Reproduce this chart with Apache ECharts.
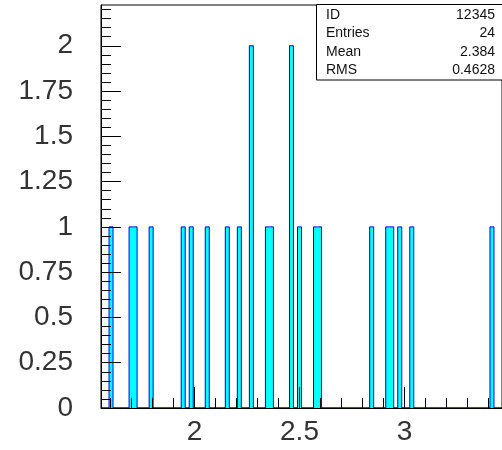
<!DOCTYPE html>
<html><head><meta charset="utf-8">
<script src="https://cdn.jsdelivr.net/npm/echarts@6/dist/echarts.min.js"></script>
<style>html,body{margin:0;padding:0;background:#fff}#c{width:502px;height:450px}</style>
</head><body><div id="c"></div>
<script>
// Histogram definition (100 bins)
const binLow = 1.555;
const binWidth = 0.01909;
const nBins = 100;
// non-empty bins (0-based index) and their contents
const filledBins = [2, 7, 8, 12, 20, 22, 26, 31, 34, 37, 41, 42, 47, 49, 53, 54, 67, 71, 72, 74, 77, 97];
const binCounts  = [1, 1, 1, 1,  1,  1,  1,  1,  1,  2,  1,  1,  2,  1,  1,  1,  1,  1,  1,  1,  1,  1];

const xMin = binLow, xMax = binLow + nBins * binWidth;
const yMin = 0, yMax = 2.225;
const xMajorTicks = [2, 2.5, 3];
const xMinorTicks = [1.6, 1.7, 1.8, 1.9, 2.0, 2.1, 2.2, 2.3, 2.4, 2.5, 2.6, 2.7, 2.8, 2.9, 3.0, 3.1, 3.2, 3.3, 3.4];
const yMajorTicks = [0, 0.25, 0.5, 0.75, 1, 1.25, 1.5, 1.75, 2];
const yMinorTicks = [0, 0.05, 0.1, 0.15, 0.2, 0.25, 0.3, 0.35, 0.4, 0.45, 0.5, 0.55, 0.6, 0.65, 0.7, 0.75, 0.8, 0.85, 0.9, 0.95,
                     1, 1.05, 1.1, 1.15, 1.2, 1.25, 1.3, 1.35, 1.4, 1.45, 1.5, 1.55, 1.6, 1.65, 1.7, 1.75, 1.8, 1.85, 1.9, 1.95,
                     2, 2.05, 2.1, 2.15, 2.2];
const statLabels = ['ID', 'Entries', 'Mean', 'RMS'];
const statValues = ['12345', '24', '2.384', '0.4628'];

// Build library data
const counts = new Array(nBins).fill(0);
filledBins.forEach((b, i) => { counts[b] = binCounts[i]; });
const fillData = filledBins.map((b, i) => [binLow + b * binWidth, binLow + (b + 1) * binWidth, binCounts[i]]);
const outlineData = [];
for (let k = 0; k < nBins; k++) outlineData.push([binLow + k * binWidth, counts[k]]);
outlineData.push([binLow + nBins * binWidth, 0]);

const FONT = 'Liberation Sans';
const chart = echarts.init(document.getElementById('c'), null, {renderer: 'canvas'});

const statRows = [15, 33.5, 52, 70.5];
const statChildren = [{
  type: 'rect', shape: {x: 316.5, y: 4.5, width: 200, height: 75.5},
  style: {fill: '#fff', stroke: '#000', lineWidth: 1}
}];
statLabels.forEach((t, i) => {
  statChildren.push({type: 'text', x: 326, y: statRows[i],
    style: {text: t, fontSize: 14, fontFamily: FONT, fill: '#111', align: 'left', verticalAlign: 'middle'}});
  statChildren.push({type: 'text', x: 495, y: statRows[i],
    style: {text: statValues[i], fontSize: 14, fontFamily: FONT, fill: '#111', align: 'right', verticalAlign: 'middle'}});
});

chart.setOption({
  animation: false,
  backgroundColor: '#fff',
  grid: {left: 101, top: 5, width: 404, height: 403, show: true, borderColor: '#000', borderWidth: 1, backgroundColor: 'transparent'},
  xAxis: [{
    type: 'value', min: xMin, max: xMax, position: 'bottom', z: 10,
    axisLine: {show: true, lineStyle: {color: '#000', width: 1}},
    axisTick: {show: true, inside: true, length: 21, customValues: xMajorTicks, lineStyle: {color: '#000'}},
    axisLabel: {show: true, customValues: xMajorTicks, margin: 10, fontSize: 28, fontFamily: FONT, color: '#333'},
    splitLine: {show: false}
  }, {
    type: 'value', min: xMin, max: xMax, position: 'bottom', z: 10,
    axisLine: {show: false},
    axisTick: {show: true, inside: true, length: 10, customValues: xMinorTicks, lineStyle: {color: '#000'}},
    axisLabel: {show: false},
    splitLine: {show: false}
  }],
  yAxis: [{
    type: 'value', min: yMin, max: yMax, position: 'left', z: 10,
    axisLine: {show: true, lineStyle: {color: '#000', width: 1}},
    axisTick: {show: true, inside: true, length: 20, customValues: yMajorTicks, lineStyle: {color: '#000'}},
    axisLabel: {show: true, customValues: yMajorTicks, margin: 28, fontSize: 28, fontFamily: FONT, color: '#333'},
    splitLine: {show: false}
  }, {
    type: 'value', min: yMin, max: yMax, position: 'left', z: 10,
    axisLine: {show: false},
    axisTick: {show: true, inside: true, length: 10, customValues: yMinorTicks, lineStyle: {color: '#000'}},
    axisLabel: {show: false},
    splitLine: {show: false}
  }],
  graphic: [{type: 'group', z: 100, children: statChildren}],
  series: [{
    type: 'custom', xAxisIndex: 0, yAxisIndex: 0, z: 2,
    data: fillData,
    encode: {x: [0, 1], y: 2},
    renderItem: function (params, api) {
      const p0 = api.coord([api.value(0), api.value(2)]);
      const p1 = api.coord([api.value(1), 0]);
      return {type: 'rect', shape: {x: p0[0], y: p0[1], width: p1[0] - p0[0], height: p1[1] - p0[1]},
              style: {fill: '#00ffff', stroke: null}};
    }
  }, {
    type: 'line', xAxisIndex: 0, yAxisIndex: 0, z: 3,
    data: outlineData, step: 'end', showSymbol: false, symbol: 'none',
    lineStyle: {color: '#0000ff', width: 1}
  }]
});
</script>
</body></html>
